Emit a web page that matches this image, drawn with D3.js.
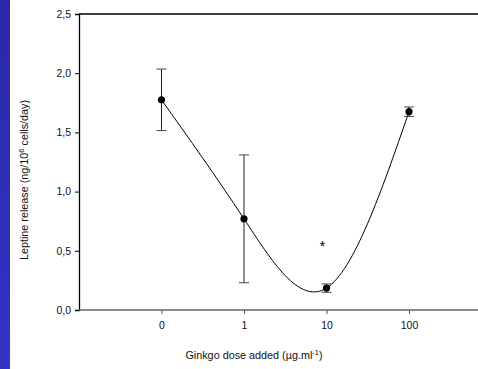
<!DOCTYPE html>
<html>
<head>
  <meta charset="UTF-8">
  <title>leptine</title>
  <style>
    body { margin: 0; background: #fff; }
    svg text { font-family: "Liberation Sans", Arial, sans-serif; }
  </style>
</head>
<body>
  <script src="https://cdn.jsdelivr.net/npm/d3@7"></script>
  <script type="text/javascript">
  // dose groups (0 is plotted one decade below 1 on the log axis)
  var doseLabels = ["0", "1", "10", "100"];
  var dosePos = [0.1, 1, 10, 100];
  var means = [1.775, 0.77, 0.185, 1.675];
  var errs = [0.26, 0.54, 0.035, 0.04];
  var yTicks = [0, 0.5, 1.0, 1.5, 2.0, 2.5];
  var starDose = 10, starValue = 0.57;

  var width = 478, height = 369;
  var plotLeft = 79, plotTop = 14, plotBottom = 310;

  var x = d3.scaleLog().domain([0.01, 1000]).range([plotLeft, plotLeft + 5 * 82.5]);
  var y = d3.scaleLinear().domain([0, 2.5]).range([plotBottom, plotTop]);

  var svg = d3.select("body").append("svg")
    .attr("width", width)
    .attr("height", height);

  // blue strip on the left edge
  var grad = svg.append("defs").append("linearGradient")
    .attr("id", "strip").attr("x1", 0).attr("x2", 0).attr("y1", 0).attr("y2", 1);
  grad.append("stop").attr("offset", "0%").attr("stop-color", "#2b28a8");
  grad.append("stop").attr("offset", "100%").attr("stop-color", "#3333c6");
  svg.append("rect").attr("x", 0).attr("y", 0).attr("width", 10).attr("height", height)
    .attr("fill", "url(#strip)");

  // y axis
  var yAxis = svg.append("g")
    .attr("transform", "translate(" + plotLeft + ",0)")
    .call(d3.axisLeft(y).tickValues(yTicks).tickSize(4).tickPadding(4)
      .tickFormat(function (d) { return d3.format(".1f")(d).replace(".", ","); }));
  yAxis.select(".domain").attr("stroke", "#000").attr("stroke-width", 1.3);
  yAxis.selectAll("text").attr("font-size", 10.5).attr("fill", "#111")
    .attr("font-family", "Liberation Sans, Arial, sans-serif");

  // top frame line
  svg.append("line").attr("x1", plotLeft).attr("x2", width).attr("y1", plotTop).attr("y2", plotTop)
    .attr("stroke", "#000").attr("stroke-width", 1.3);

  // x axis
  var xAxis = svg.append("g")
    .attr("transform", "translate(0," + plotBottom + ")")
    .call(d3.axisBottom(x).tickValues(dosePos).tickSize(4).tickPadding(8)
      .tickFormat(function (d, i) { return doseLabels[i]; }));
  xAxis.select(".domain").remove();
  xAxis.selectAll("line").attr("stroke", "#555");
  xAxis.selectAll("text").attr("font-size", 10.5).attr("fill", "#111")
    .attr("font-family", "Liberation Sans, Arial, sans-serif");
  svg.append("line").attr("x1", plotLeft).attr("x2", width).attr("y1", plotBottom).attr("y2", plotBottom)
    .attr("stroke", "#666").attr("stroke-width", 1.6);

  var data = dosePos.map(function (d, i) {
    return { dose: d, mean: means[i], err: errs[i] };
  });

  // fitted curve
  svg.append("path")
    .datum(data)
    .attr("fill", "none")
    .attr("stroke", "#000")
    .attr("stroke-width", 1)
    .attr("d", d3.line()
      .curve(d3.curveNatural)
      .x(function (d) { return x(d.dose); })
      .y(function (d) { return y(d.mean); }));

  // error bars
  var eb = svg.append("g").selectAll("g").data(data).enter().append("g");
  eb.append("line")
    .attr("x1", function (d) { return x(d.dose); })
    .attr("x2", function (d) { return x(d.dose); })
    .attr("y1", function (d) { return y(d.mean + d.err); })
    .attr("y2", function (d) { return y(d.mean - d.err); })
    .attr("stroke", "#222");
  [1, -1].forEach(function (s) {
    eb.append("line")
      .attr("x1", function (d) { return x(d.dose) - 5; })
      .attr("x2", function (d) { return x(d.dose) + 5; })
      .attr("y1", function (d) { return y(d.mean + s * d.err); })
      .attr("y2", function (d) { return y(d.mean + s * d.err); })
      .attr("stroke", "#444");
  });

  // points
  svg.append("g").selectAll("circle").data(data).enter().append("circle")
    .attr("cx", function (d) { return x(d.dose); })
    .attr("cy", function (d) { return y(d.mean); })
    .attr("r", 3.6)
    .attr("fill", "#000");

  // significance mark
  svg.append("text")
    .attr("x", x(starDose) - 4)
    .attr("y", y(starValue) + 8)
    .attr("text-anchor", "middle")
    .attr("font-size", 14)
    .text("*");

  // axis titles
  var xt = svg.append("text")
    .attr("x", 254).attr("y", 359)
    .attr("text-anchor", "middle")
    .attr("font-size", 10.8)
    .attr("fill", "#111");
  xt.append("tspan").text("Ginkgo dose added (\u00b5g.ml");
  xt.append("tspan").attr("font-size", 7.5).attr("dy", -4).text("-1");
  xt.append("tspan").attr("dy", 4).text(")");

  var yt = svg.append("text")
    .attr("transform", "translate(28,180) rotate(-90)")
    .attr("text-anchor", "middle")
    .attr("font-size", 10.8)
    .attr("fill", "#111");
  yt.append("tspan").text("Leptine release (ng/10");
  yt.append("tspan").attr("font-size", 7.5).attr("dy", -4).text("6");
  yt.append("tspan").attr("dy", 4).text(" cells/day)");
  </script>
</body>
</html>
